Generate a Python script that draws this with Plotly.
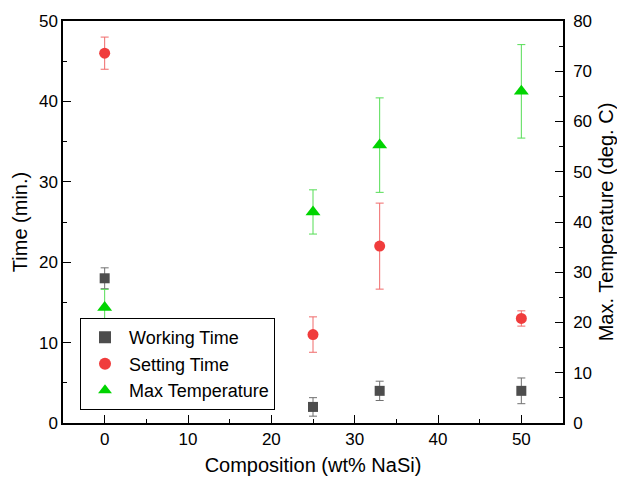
import plotly.graph_objects as go

composition = [0, 25, 33, 50]
working_time = [18.0, 2.0, 4.0, 4.0]
working_err = [1.3, 1.15, 1.2, 1.6]
setting_time = [46.0, 11.0, 22.0, 13.0]
setting_err = [2.0, 2.2, 5.35, 0.95]
max_temp = [23.0, 42.0, 55.3, 66.0]
max_temp_err = [3.6, 4.4, 9.4, 9.3]

FONT = "Liberation Sans, Arial, sans-serif"
fig = go.Figure()

fig.add_trace(go.Scatter(
    x=composition, y=working_time, mode="markers", name="Working Time",
    marker=dict(symbol="square", size=10, color="#4d4d4d"),
    error_y=dict(type="data", array=working_err, color="#707070", thickness=1, width=4),
))
fig.add_trace(go.Scatter(
    x=composition, y=setting_time, mode="markers", name="Setting Time",
    marker=dict(symbol="circle", size=11, color="#f03c3c"),
    error_y=dict(type="data", array=setting_err, color="#f06a6a", thickness=1, width=4),
))
fig.add_trace(go.Scatter(
    x=composition, y=max_temp, mode="markers", name="Max Temperature", yaxis="y2",
    marker=dict(symbol="triangle-up", size=13, color="#00d400"),
    error_y=dict(type="data", array=max_temp_err, color="#55dd55", thickness=1, width=4),
))

axis_common = dict(
    showline=True, linecolor="black", linewidth=1.5, ticks="inside", ticklen=8,
    tickwidth=1, tickcolor="black", showgrid=False, zeroline=False,
    tickfont=dict(family=FONT, size=17, color="black"),
    minor=dict(ticks="inside", ticklen=4, tickcolor="black", dtick=5, showgrid=False),
)

fig.update_layout(
    width=617, height=480,
    margin=dict(l=63, r=54, t=21, b=57, autoexpand=False),
    paper_bgcolor="white", plot_bgcolor="white",
    font=dict(family=FONT, color="black"),
    xaxis=dict(range=[-5, 55], dtick=10, mirror=True,
               title=dict(text="Composition (wt% NaSi)", font=dict(family=FONT, size=20), standoff=10),
               **axis_common),
    yaxis=dict(range=[0, 50], dtick=10,
               title=dict(text="Time (min.)", font=dict(family=FONT, size=20), standoff=6),
               **axis_common),
    yaxis2=dict(range=[0, 80], dtick=10, overlaying="y", side="right", ticklabelstandoff=5,
                title=dict(text="Max. Temperature (deg. C)", font=dict(family=FONT, size=20), standoff=8),
                **axis_common),
    legend=dict(x=0.034, y=0.032, xanchor="left", yanchor="bottom",
                bordercolor="black", borderwidth=1, bgcolor="white", itemwidth=38,
                font=dict(family=FONT, size=18), tracegroupgap=0, itemsizing="constant"),
    showlegend=True,
)

fig.write_html("out.html", config={"displayModeBar": False},
               post_script="document.body.style.margin='0';document.body.style.padding='0';window.dispatchEvent(new Event('resize'));")
